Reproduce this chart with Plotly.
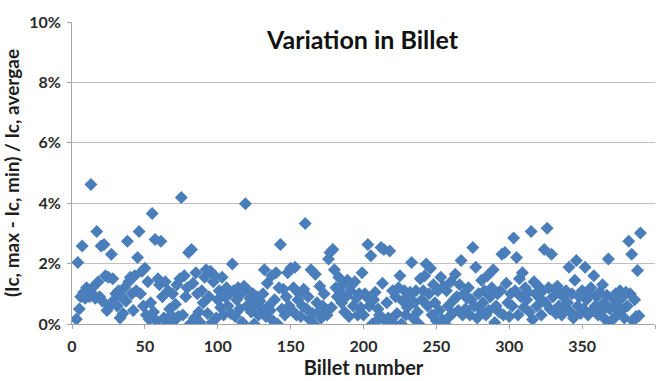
import plotly.graph_objects as go

billet_start = 3
variation_pct = [
    0.16, 2.04, 0.5, 0.9, 2.58, 1.05, 0.85, 1.2, 1.1, 0.9,
    4.62, 1.2, 0.95, 0.85, 3.06, 1.4, 0.9, 2.58, 0.75, 2.63,
    1.6, 0.45, 1.55, 0.6, 2.31, 1.5, 0.8, 1.0, 0.6, 1.1,
    0.2, 0.9, 0.35, 1.2, 0.75, 2.74, 1.4, 1.55, 1.0, 0.45,
    1.6, 1.1, 2.2, 3.06, 1.0, 1.75, 0.6, 1.85, 0.3, 1.4,
    0.15, 0.7, 3.66, 0.4, 2.8, 0.1, 1.5, 1.3, 2.74, 0.9,
    0.2, 1.4, 0.0, 1.1, 0.5, 0.3, 1.0, 0.1, 0.65, 1.3,
    0.25, 1.5, 4.19, 0.3, 1.6, 0.9, 1.2, 2.37, 0.0, 2.47,
    1.35, 0.2, 1.7, 1.0, 0.4, 0.05, 1.1, 0.7, 1.55, 1.8,
    0.35, 0.9, 1.75, 0.05, 1.4, 1.6, 0.2, 0.8, 1.1, 0.55,
    1.55, 0.3, 0.9, 1.2, 0.6, 1.0, 0.35, 1.99, 1.1, 0.25,
    0.8, 1.2, 0.5, 1.0, 0.05, 1.25, 3.98, 0.6, 1.1, 0.85,
    0.4, 1.0, 0.0, 0.65, 0.9, 0.3, 0.75, 0.5, 1.0, 1.8,
    0.25, 1.35, 0.6, 0.45, 1.6, 0.1, 0.8, 1.7, 0.0, 1.2,
    2.63, 0.5, 1.15, 0.3, 0.9, 1.7, 0.6, 1.85, 0.45, 1.2,
    1.88, 0.3, 0.8, 1.0, 0.25, 0.6, 1.15, 3.33, 0.5, 0.9,
    0.15, 1.8, 0.35, 0.0, 1.65, 0.7, 0.4, 1.25, 0.2, 0.6,
    1.0, 0.4, 0.3, 2.15, 2.37, 0.55, 2.47, 1.8, 1.2, 0.9,
    1.55, 1.0, 0.7, 1.3, 0.4, 0.9, 1.45, 0.25, 1.1, 1.3,
    0.6, 1.4, 0.85, 0.3, 1.0, 0.55, 1.7, 0.3, 1.0, 0.9,
    2.63, 0.6, 2.26, 0.0, 0.8, 1.05, 0.1, 0.5, 0.3, 2.53,
    1.35, 2.47, 0.1, 0.7, 0.2, 2.42, 0.15, 1.1, 0.0, 0.9,
    0.35, 1.2, 1.6, 0.0, 0.75, 1.1, 0.3, 0.55, 0.9, 1.05,
    2.04, 0.2, 0.7, 1.1, 0.4, 0.0, 1.5, 0.8, 1.1, 1.6,
    1.99, 0.6, 1.0, 1.85, 0.3, 1.3, 0.7, 0.1, 1.1, 0.45,
    1.55, 0.15, 1.25, 0.0, 1.1, 0.6, 0.25, 1.4, 0.35, 0.8,
    1.65, 0.9, 0.45, 1.3, 2.1, 0.3, 1.0, 0.5, 0.85, 1.2,
    0.3, 0.8, 2.53, 0.6, 1.88, 0.2, 1.0, 0.5, 1.45, 0.7,
    1.1, 0.3, 1.6, 0.45, 0.9, 1.2, 1.8, 0.05, 0.6, 1.0,
    0.4, 1.1, 2.31, 0.3, 2.37, 1.35, 0.7, 0.25, 1.0, 0.6,
    2.85, 1.1, 2.2, 0.3, 1.5, 0.9, 1.7, 0.55, 1.2, 0.8,
    1.05, 0.4, 3.06, 0.15, 1.4, 1.0, 0.6, 1.25, 0.85, 0.3,
    1.1, 2.47, 0.7, 3.17, 1.2, 0.5, 2.31, 0.9, 1.15, 0.35,
    1.25, 0.6, 1.05, 0.3, 0.9, 0.5, 1.1, 0.7, 1.88, 0.4,
    1.0, 0.2, 1.45, 2.1, 0.6, 0.9, 0.35, 1.1, 0.5, 1.88,
    0.8, 0.3, 1.0, 1.2, 0.45, 1.6, 0.6, 0.9, 0.3, 1.05,
    0.4, 1.3, 0.7, 0.15, 0.95, 2.15, 0.5, 0.1, 0.85, 0.6,
    1.0, 0.3, 0.75, 1.1, 0.45, 0.9, 0.2, 1.05, 0.6, 2.74,
    1.0, 2.31, 0.1, 0.8, 0.25, 1.77, 0.27, 3.01,
]
billets = list(range(billet_start, billet_start + len(variation_pct)))

x_ticks = [0, 50, 100, 150, 200, 250, 300, 350, 400]
y_ticks = [0, 2, 4, 6, 8, 10]
y_tick_labels = ["0%", "2%", "4%", "6%", "8%", "10%"]

title_text = "Variation in Billet"
x_title = "Billet number"
y_title = "(Ic, max - Ic, min) / Ic, avergae"

font_family = "Lato, 'Open Sans', Arial, sans-serif"

fig = go.Figure(
    go.Scatter(
        x=billets,
        y=variation_pct,
        mode="markers",
        marker=dict(symbol="diamond", size=10, color="#4a7ebb", line=dict(width=0)),
        hoverinfo="x+y",
    )
)

fig.update_layout(
    width=668,
    height=381,
    margin=dict(l=71, r=13, t=15, b=57),
    paper_bgcolor="white",
    plot_bgcolor="white",
    showlegend=False,
    font=dict(family=font_family, color="#333333"),
    annotations=[
        dict(
            text="<b>" + title_text + "</b>",
            xref="paper", yref="paper",
            x=0.498, y=0.945,
            xanchor="center", yanchor="middle",
            showarrow=False,
            font=dict(size=25, color="#111111", family=font_family),
        )
    ],
)

fig.update_xaxes(
    range=[0, 400],
    tickvals=x_ticks,
    showgrid=False,
    zeroline=False,
    showline=True,
    linecolor="#a6a6a6",
    linewidth=1,
    ticks="outside",
    ticklen=4,
    tickcolor="#a6a6a6",
    ticklabelstandoff=4,
    tickfont=dict(size=16, color="#2b2b2b", family=font_family, weight="bold"),
    title=dict(text="<b>" + x_title + "</b>", font=dict(size=20, color="#1e1e1e"), standoff=0),
)

fig.update_yaxes(
    range=[0, 10],
    tickvals=y_ticks,
    ticktext=y_tick_labels,
    showgrid=True,
    gridcolor="#c0c0c0",
    gridwidth=1,
    zeroline=False,
    showline=True,
    linecolor="#a6a6a6",
    linewidth=1,
    ticks="outside",
    ticklen=4,
    tickcolor="#a6a6a6",
    ticklabelstandoff=3,
    tickfont=dict(size=16, color="#2b2b2b", family=font_family, weight="bold"),
    title=dict(text="<b>" + y_title + "</b>", font=dict(size=19, color="#1e1e1e"), standoff=4),
)

fig.write_html("out.html")
